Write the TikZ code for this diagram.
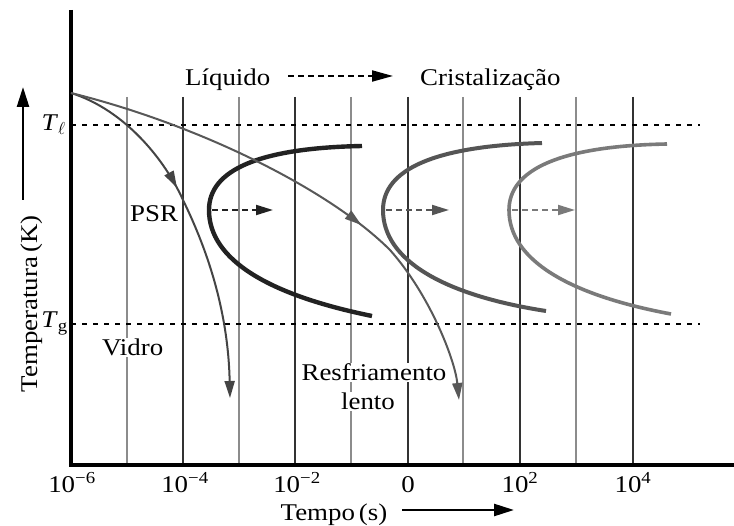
\documentclass[tikz,border=0pt]{standalone}
\usepackage{fontspec}
\setmainfont{Liberation Serif}[FakeStretch=1.12]
\usetikzlibrary{arrows.meta,decorations.markings}
\definecolor{gdark}{HTML}{333333}
\definecolor{glight}{HTML}{8C8C8C}
\definecolor{cone}{HTML}{222222}
\definecolor{ctwo}{HTML}{555555}
\definecolor{cthree}{HTML}{7A7A7A}
\definecolor{cfast}{HTML}{444444}
\definecolor{cslow}{HTML}{585858}
\begin{document}
\begin{tikzpicture}[x=1pt,y=-1pt,
  font=\fontsize{24}{29}\selectfont,
  tri/.tip={Triangle[length=17pt,width=10pt]},
  bigtri/.tip={Triangle[length=20pt,width=12pt]},
  axisline/.style={line width=3.5pt,black},
  griddark/.style={line width=2.2pt,gdark},
  gridlight/.style={line width=2pt,glight},
  dotline/.style={line width=2pt,black,dash pattern=on 5pt off 6pt},
  dasharrow/.style={line width=2pt,dash pattern=on 6pt off 4pt,-{tri}},
  ccurve/.style={line width=4pt},
  cool/.style={line width=2pt},
  lbl/.style={inner sep=0pt},
  wlbl/.style={fill=white,inner sep=1pt},
  ticklbl/.style={inner sep=0pt,anchor=base}]
\useasboundingbox (0,0) rectangle (734,526);
\fill[white] (0,0) rectangle (734,526);

% grid lines
\foreach \x in {183,295,408,520,633}
  \draw[griddark] (\x,97) -- (\x,465);
\foreach \x in {127,239,351,463,576}
  \draw[gridlight] (\x,97) -- (\x,465);

% dotted temperature lines
\coordinate (tlA) at (71,125); \coordinate (tlB) at (700,125);
\coordinate (tgA) at (71,324); \coordinate (tgB) at (700,324);
\draw[dotline] (tlA) -- (tlB);
\draw[dotline] (tgA) -- (tgB);

% axes
\coordinate (ytop) at (71,10);
\coordinate (orig) at (71,465);
\coordinate (xend) at (734,465);
\draw[axisline] (ytop) -- (orig) -- (xend);

% C curves
\begin{scope}[shift={(209,210)}]
  \coordinate (n1) at (0,0);
  \draw[ccurve,cone,line width=4.4pt] (153,-64) .. controls (50,-62) and (0,-40) .. (n1)
     .. controls (0,50) and (60,85) .. (163,106);
  \coordinate (d1a) at (3,0); \coordinate (d1b) at (64,0);
  \draw[dasharrow,cone] (d1a) -- (d1b);
\end{scope}
\begin{scope}[shift={(383,210)}]
  \coordinate (n2) at (0,0);
  \draw[ccurve,ctwo] (159,-67) .. controls (50,-64) and (0,-40) .. (n2)
     .. controls (0,50) and (60,85) .. (163,101);
  \coordinate (d2a) at (3,0); \coordinate (d2b) at (66,0);
  \draw[dasharrow,ctwo] (d2a) -- (d2b);
\end{scope}
\begin{scope}[shift={(509,210)}]
  \coordinate (n3) at (0,0);
  \draw[ccurve,cthree,line width=3.6pt] (158,-66) .. controls (50,-64) and (0,-40) .. (n3)
     .. controls (0,50) and (60,85) .. (162,104);
  \coordinate (d3a) at (3,0); \coordinate (d3b) at (66,0);
  \draw[dasharrow,cthree] (d3a) -- (d3b);
\end{scope}

% cooling curves
\coordinate (start) at (71,93);
\coordinate (fastmid) at (183,200);
\coordinate (fastend) at (230,398);
\coordinate (slowmid) at (390,250);
\coordinate (slowend) at (459,400);
\draw[cool,cfast,-{tri},
  postaction={decorate},
  decoration={markings,mark=at position 0.40 with {\arrow{tri}}}]
  (start) .. controls (125,110) and (165,160) .. (fastmid)
  .. controls (200,235) and (228,300) .. (fastend);
\draw[cool,cslow,-{tri},
  postaction={decorate},
  decoration={markings,mark=at position 0.61 with {\arrow{tri}}}]
  (start) .. controls (200,125) and (330,190) .. (slowmid)
  .. controls (430,295) and (455,360) .. (slowend);

% top labels
\node[lbl,anchor=base west] (liq) at (185,86) {Líquido};
\node[lbl,anchor=base west] (cri) at (420,86) {Cristalização};
\coordinate (la) at (288,76); \coordinate (lb) at (393,76);
\draw[line width=2pt,dash pattern=on 6pt off 4pt,-{Triangle[length=21pt,width=11pt]}] (la) -- (lb);

% region labels
\node[lbl,anchor=base west] (psr) at (130,222) {PSR};
\node[wlbl,anchor=base west] (vid) at (101,356) {Vidro};
\node[wlbl,anchor=base] (res) at (374,381) {Resfriamento};
\node[wlbl,anchor=base] (len) at (368,410) {lento};

% temperature labels
\node[lbl,anchor=base east] (tl) at (66,131) {\textit{T}$_{\ell}$};
\node[lbl,anchor=base east] (tg) at (68,328) {\textit{T}\textsubscript{g}};

% tick labels
\node[ticklbl] (t1) at (72,493) {10\textsuperscript{−6}};
\node[ticklbl] (t2) at (185,493) {10\textsuperscript{−4}};
\node[ticklbl] (t3) at (297,493) {10\textsuperscript{−2}};
\node[ticklbl] (t4) at (408,493) {0};
\node[ticklbl] (t5) at (520,493) {10\textsuperscript{2}};
\node[ticklbl] (t6) at (633,493) {10\textsuperscript{4}};

% axis titles
\node[lbl,anchor=base] (xt) at (334,520) {Tempo\,(s)};
\coordinate (xa) at (402,510); \coordinate (xb) at (514,510);
\draw[line width=2.5pt,-{bigtri}] (xa) -- (xb);
\node[lbl,anchor=base,rotate=90] (yt) at (37,304) {Temperatura\,(K)};
\coordinate (ya) at (23,200); \coordinate (yb) at (23,87);
\draw[line width=2.5pt,-{bigtri}] (ya) -- (yb);
\end{tikzpicture}
\end{document}
